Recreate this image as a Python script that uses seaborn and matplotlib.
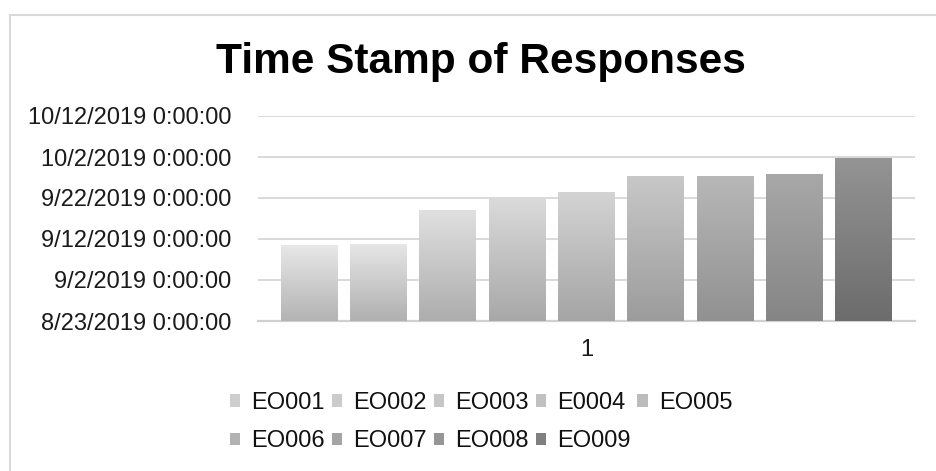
import numpy as np
import pandas as pd
import matplotlib
matplotlib.use("Agg")
import matplotlib.pyplot as plt
import matplotlib.patches as mpatches
from matplotlib.ticker import FixedLocator, FuncFormatter
import seaborn as sns

# Data
respondents = ["EO001", "EO002", "EO003", "E0004", "EO005",
               "EO006", "EO007", "EO008", "EO009"]
timestamps = ["2019-09-10 10:00", "2019-09-10 17:00", "2019-09-19 00:00",
              "2019-09-21 18:00", "2019-09-23 12:00", "2019-09-27 10:00",
              "2019-09-27 10:00", "2019-09-27 22:00", "2019-10-01 19:00"]
category = ["1"] * len(respondents)
axis_start = "2019-08-23"
axis_end = "2019-10-12"
tick_step_days = 10

# gradient colours per bar (top, bottom)
top_colors = ["#e8e8e8", "#e6e6e6", "#e0e0e0", "#dadada", "#d4d4d4",
              "#c8c8c8", "#b8b8b8", "#a8a8a8", "#949494"]
bottom_colors = ["#b3b3b3", "#b0b0b0", "#adadad", "#a8a8a8", "#a5a5a5",
                 "#9c9c9c", "#919191", "#858585", "#6c6c6c"]

start = pd.Timestamp(axis_start)
days_total = (pd.Timestamp(axis_end) - start).days
df = pd.DataFrame({
    "group": category,
    "respondent": respondents,
    "days": (pd.to_datetime(timestamps) - start) / pd.Timedelta(days=1),
})

mid_colors = [matplotlib.colors.to_hex(
    (np.array(matplotlib.colors.to_rgb(t)) + np.array(matplotlib.colors.to_rgb(b))) / 2)
    for t, b in zip(top_colors, bottom_colors)]

sns.set_theme(style="white")
plt.rcParams["font.family"] = ["Liberation Sans", "DejaVu Sans"]

W, H = 936, 471
fig = plt.figure(figsize=(W / 100, H / 100), dpi=100)
ax = fig.add_axes([258 / W, 1 - 321 / H, (915 - 258) / W, (321 - 116) / H])

sns.barplot(data=df, x="group", y="days", hue="respondent",
            hue_order=respondents, palette=mid_colors,
            width=0.95, gap=0.18, legend=False, ax=ax, zorder=3)

# vertical gradient on each bar
for bar, tc, bc in zip(ax.patches, top_colors, bottom_colors):
    x0, y0 = bar.get_x(), bar.get_y()
    x1, y1 = x0 + bar.get_width(), y0 + bar.get_height()
    t = np.array(matplotlib.colors.to_rgb(tc))
    b = np.array(matplotlib.colors.to_rgb(bc))
    f = np.linspace(0, 1, 200)[:, None]
    grad = (t * (1 - f) + b * f)[:, None, :]
    im = ax.imshow(grad, extent=(x0, x1, y0, y1), aspect="auto",
                   zorder=3, interpolation="bilinear")
    im.set_clip_path(bar)
    bar.set_facecolor("none")
    bar.set_edgecolor("none")

ax.set_xlim(-0.5, 0.5)
ax.set_ylim(0, days_total)
ticks = list(range(0, days_total + 1, tick_step_days))
ax.yaxis.set_major_locator(FixedLocator(ticks))


def fmt_date(v, pos):
    d = start + pd.Timedelta(days=v)
    return f"{d.month}/{d.day}/{d.year} 0:00:00"


ax.yaxis.set_major_formatter(FuncFormatter(fmt_date))
ax.grid(axis="y", color="#d9d9d9", linewidth=1.4, zorder=0)
ax.set_axisbelow(True)
for s in ["top", "right", "left"]:
    ax.spines[s].set_visible(False)
ax.spines["bottom"].set_color("#d0d0d0")
ax.spines["bottom"].set_linewidth(1.6)
ax.tick_params(axis="y", length=0, pad=19, labelsize=17, labelcolor="#1a1a1a")
ax.tick_params(axis="x", length=0, pad=13, labelsize=17, labelcolor="#1a1a1a")
ax.set_xlabel("")
ax.set_ylabel("")
ax.set_facecolor("white")

fig.text(481 / W, 1 - 62 / H, "Time Stamp of Responses", ha="center", va="center",
         fontsize=30.5, fontweight="bold", color="black")

# legend, row-major order across 5 columns
handles = [mpatches.Patch(facecolor=c, edgecolor="none", label=l)
           for c, l in zip(mid_colors, respondents)]
order = [0, 5, 1, 6, 2, 7, 3, 8, 4]
fig.legend([handles[i] for i in order], [respondents[i] for i in order],
           ncol=5, loc="center", bbox_to_anchor=(481 / W, 1 - 422 / H),
           frameon=False, fontsize=17, handlelength=0.45, handleheight=0.45,
           handletextpad=0.45, columnspacing=0.3, labelspacing=0.7,
           borderpad=0, labelcolor="#111111")

# outer chart border
fig.patches.append(mpatches.Rectangle((10 / W, -0.1), 1.2, (H - 15) / H + 0.1,
                                      transform=fig.transFigure, fill=False,
                                      edgecolor="#d9d9d9", linewidth=1.5))

fig.savefig("out.png", dpi=100, facecolor="white")
